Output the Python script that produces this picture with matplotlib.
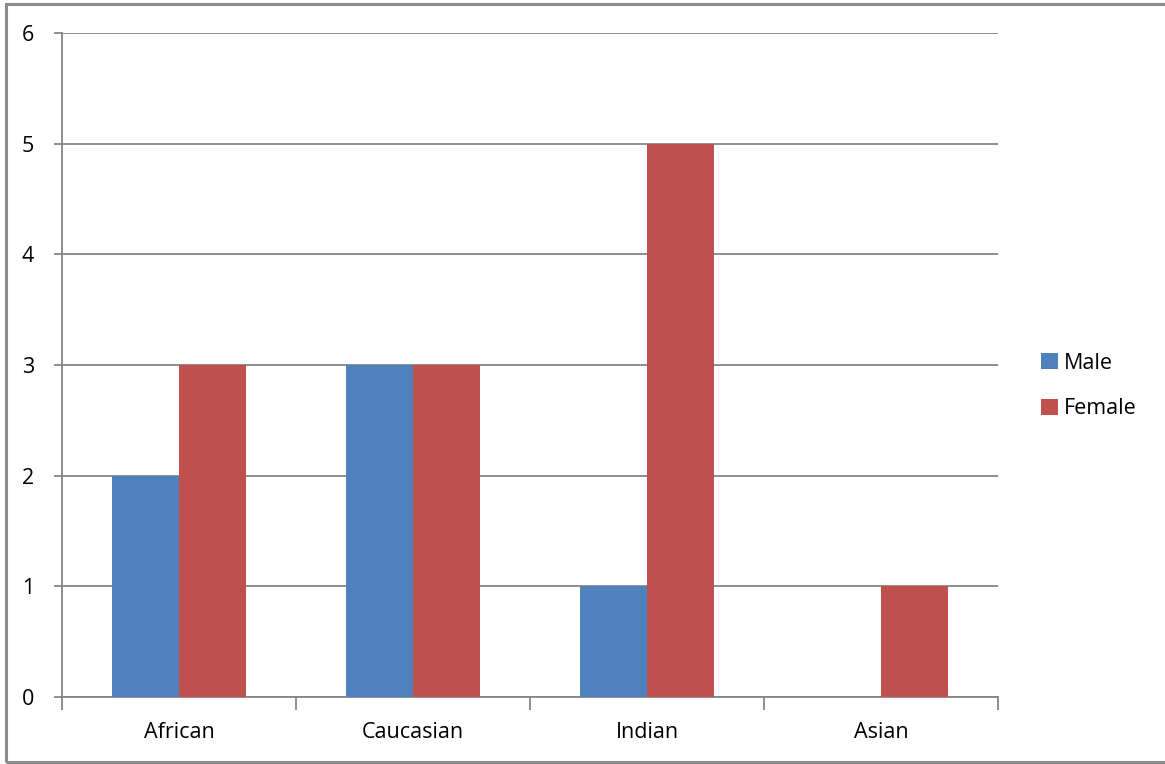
import numpy as np
import matplotlib
matplotlib.use("Agg")
import matplotlib.pyplot as plt
from matplotlib.patches import Rectangle

categories = ["African", "Caucasian", "Indian", "Asian"]
male = [2, 3, 1, 0]
female = [3, 3, 5, 1]
yticks = [0, 1, 2, 3, 4, 5, 6]

plt.rcParams['font.family'] = ['Open Sans', 'DejaVu Sans']

W, H = 1165, 764
fig = plt.figure(figsize=(W / 100, H / 100), dpi=100)
# plot area in pixels: x 62..998, y 33..697
ax = fig.add_axes([62 / W, 1 - 697 / H, (998 - 62) / W, (697 - 33) / H])

# outer chart border (right edge lies outside the image)
fig.patches.append(Rectangle((6 / W, 2 / H), 1.1, (760 - 2) / H,
                             transform=fig.transFigure, fill=False,
                             edgecolor="#8c8c8c", linewidth=2.2))

x = np.arange(len(categories))
bw = 67 / 234
ax.bar(x - bw / 2, male, bw, color="#4F81BD", label="Male", zorder=3)
ax.bar(x + bw / 2, female, bw, color="#C0504D", label="Female", zorder=3)

ax.set_xlim(-0.5, len(categories) - 0.5)
ax.set_ylim(0, 6)
ax.set_yticks(yticks)
ax.yaxis.grid(True, color="#868686", linewidth=1.3, zorder=0)
ax.set_xticks(np.arange(len(categories) + 1) - 0.5)
ax.set_xticklabels([])
ax.set_xticks(x, minor=True)
ax.set_xticklabels(categories, minor=True, fontsize=15.5)
ax.tick_params(axis="x", which="major", length=9, color="#868686", width=1.3)
ax.tick_params(axis="x", which="minor", length=0, pad=18)
ax.tick_params(axis="y", length=6, color="#868686", width=1.3, labelsize=15.5, pad=14)

for side in ["top", "right"]:
    ax.spines[side].set_visible(False)
for side in ["left", "bottom"]:
    ax.spines[side].set_color("#868686")
    ax.spines[side].set_linewidth(1.3)

leg = fig.legend(loc="center left", bbox_to_anchor=(1022 / W, 1 - 386 / H),
                 frameon=False, fontsize=15.5, handlelength=0.75, handleheight=0.75,
                 handletextpad=0.3, labelspacing=1.15)

fig.savefig("out.png", dpi=100)
